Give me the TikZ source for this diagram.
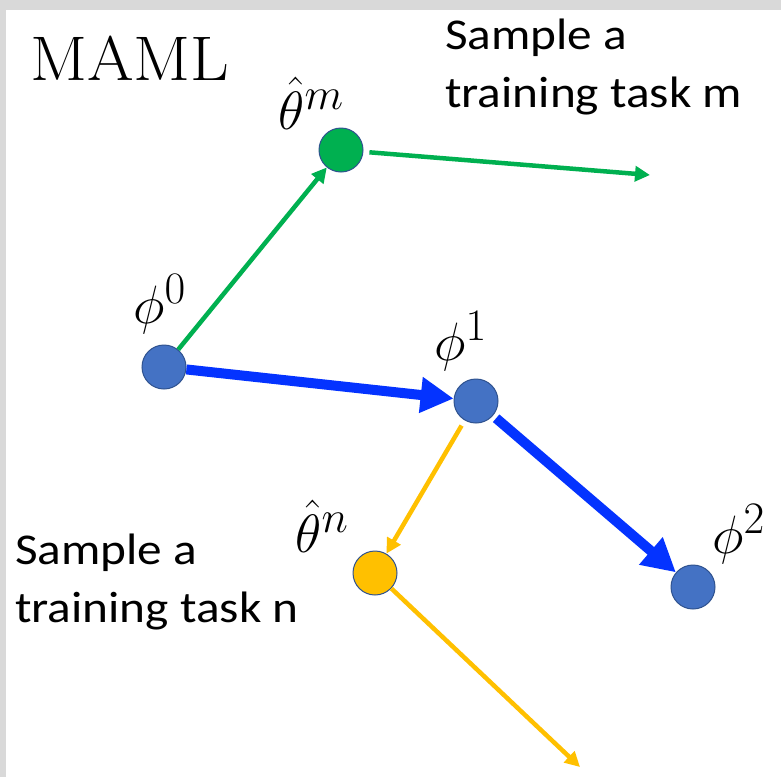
\documentclass[tikz,border=0pt]{standalone}
\usepackage{fontspec}
\newfontfamily\calibri{Carlito}
\usetikzlibrary{arrows.meta}
\definecolor{nodeblue}{HTML}{4472C4}
\definecolor{nodeedge}{HTML}{2F528F}
\definecolor{arrblue}{HTML}{0433FF}
\definecolor{mgreen}{HTML}{00B050}
\definecolor{myellow}{HTML}{FFC000}
\definecolor{framegray}{HTML}{D9D9D9}
\tikzset{
  dot/.style={circle, minimum size=44pt, inner sep=0pt, draw=nodeedge, line width=1pt},
  sans/.style={font=\calibri\fontsize{44}{58}\selectfont, align=left, inner sep=0pt, xscale=1.12, transform shape},
  mathlbl/.style={font=\fontsize{24.88}{25}\selectfont, inner sep=0pt, scale=2.17, transform shape},
  bigarrow/.style={draw=arrblue, line width=10pt, -{Triangle[length=33pt,width=34pt]}},
  thinarrow/.style={line width=4.5pt, -{Triangle[length=15pt,width=15pt]}}
}
\begin{document}
\begin{tikzpicture}[x=1pt,y=-1pt]
\useasboundingbox (0,0) rectangle (781,777);
\fill[framegray] (0,0) rectangle (781,777);
\fill[white] (6,10) rectangle (781,777);

% nodes
\node[dot, fill=nodeblue] (phi0) at (164,367) {};
\node[dot, fill=nodeblue] (phi1) at (476,401) {};
\node[dot, fill=nodeblue] (phi2) at (693,587) {};
\node[dot, fill=mgreen] (thm) at (341,150) {};
\node[dot, fill=myellow] (thn) at (375,573) {};
\coordinate (mend) at (650,175);
\coordinate (nend) at (580,767);

% connectors
\draw[thinarrow, draw=mgreen, color=mgreen] (phi0) -- (thm);
\draw[thinarrow, draw=mgreen, color=mgreen, shorten <=6pt] (thm) -- (mend);
\draw[bigarrow] (phi0) -- (phi1);
\draw[bigarrow, shorten <=4pt] (phi1) -- (phi2);
\draw[thinarrow, draw=myellow, color=myellow, shorten <=6pt] (phi1) -- (thn);
\draw[thinarrow, draw=myellow, color=myellow] (thn) -- (nend);

% labels
\node[anchor=base west, inner sep=0pt, font=\fontsize{63}{63}\selectfont, xscale=1.065, transform shape] (maml) at (30,80) {MAML};
\node[sans, anchor=base west] (tm) at (445,107) {Sample a\\training task m};
\node[sans, anchor=base west] (tn) at (15,622) {Sample a\\training task n};
\node[mathlbl, anchor=base west] (lphi0) at (133,323) {$\phi^0$};
\node[mathlbl, anchor=base west] (lphi1) at (434,360) {$\phi^1$};
\node[mathlbl, anchor=base west] (lphi2) at (712,553) {$\phi^2$};
\node[mathlbl, anchor=base west] (lthm) at (278,129) {$\hat{\theta}^m$};
\node[mathlbl, anchor=base west] (lthn) at (295,552) {$\hat{\theta}^n$};
\end{tikzpicture}
\end{document}
